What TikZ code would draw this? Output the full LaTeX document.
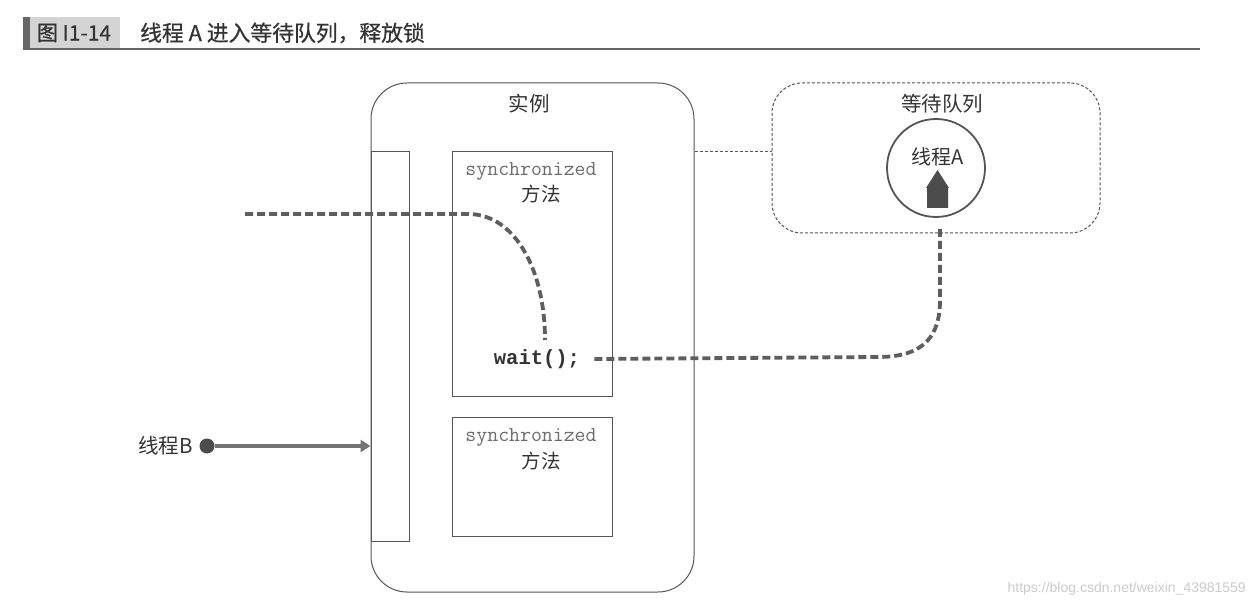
\documentclass[tikz,border=0pt]{standalone}
\usepackage{fontspec}
\setmainfont{Noto Sans CJK SC}
\newfontfamily\cjk{Noto Sans CJK SC}
\newfontfamily\cjkt[FakeBold=0.6]{Noto Sans CJK SC}
\newfontfamily\monof{Liberation Mono}
\newfontfamily\serifmono{Latin Modern Mono}
\newfontfamily\wmfont{Liberation Sans}
\usetikzlibrary{arrows.meta}
\definecolor{linegray}{HTML}{555555}
\definecolor{txtgray}{HTML}{333333}
\definecolor{pathgray}{HTML}{5E5E5E}
\tikzset{
  box/.style={draw=linegray, line width=1pt, inner sep=0pt},
  label/.style={inner sep=0pt, text=txtgray, font=\cjk\fontsize{20.5}{22}\selectfont},
  thick path/.style={draw=pathgray, line width=3.8pt, dash pattern=on 8pt off 4pt},
  thin link/.style={draw=linegray, line width=0.8pt, dash pattern=on 3pt off 2pt},
  mono/.style={inner sep=0pt, text=gray!85!black, font=\serifmono\fontsize{21.2}{23}\selectfont},
}
\begin{document}
\begin{tikzpicture}[x=1pt,y=-1pt]
\useasboundingbox (0,0) rectangle (1255,609);
\fill[white] (0,0) rectangle (1255,609);
% title
\node[fill=black!17, minimum width=90pt, minimum height=33pt, inner sep=0pt] (tbg) at (75,33.5) {};
\node[fill=black!60, minimum width=7pt, minimum height=33pt, inner sep=0pt] (tbar) at (26.5,33.5) {};
\node[inner sep=0pt, text=txtgray, font=\cjkt\fontsize{21}{23}\selectfont] (tnum) at (74,33) {图 I1-14};
\node[inner sep=0pt, anchor=west, text=txtgray, font=\cjkt\fontsize{21.8}{23}\selectfont] (ttxt) at (140,33) {线程 A 进入等待队列，释放锁};
\coordinate (tend) at (1200,49.2);
\draw[draw=black!60, line width=1.6pt] (tbar.west |- tend) -- (tend);
% instance
\node[box, rounded corners=36pt, minimum width=323pt, minimum height=509pt] (inst) at (532.5,337.5) {};
\node[label] (instl) at (529,104) {实例};
\node[box, minimum width=38pt, minimum height=389pt] (lock) at (390,346.5) {};
\node[box, minimum width=160pt, minimum height=244pt] (m1) at (532,274) {};
\node[box, minimum width=160pt, minimum height=119pt] (m2) at (532,476.5) {};
\node[mono] (m1a) at (531,171) {synchronized};
\node[label, font=\cjk\fontsize{19.5}{21}\selectfont] (m1b) at (541,194) {方法};
\node[mono] (m2a) at (531,437) {synchronized};
\node[label, font=\cjk\fontsize{19.5}{21}\selectfont] (m2b) at (541,461) {方法};
\node[inner sep=0pt, text=txtgray, font=\monof\bfseries\fontsize{20.5}{22}\selectfont] (wait) at (537,359) {wait();};
% queue
\node[draw=linegray, line width=1pt, dash pattern=on 3pt off 2pt, rounded corners=30pt, minimum width=328pt, minimum height=150pt, inner sep=0pt] (q) at (936,158) {};
\node[label] (ql) at (942,104) {等待队列};
\node[draw=linegray, line width=1.8pt, circle, minimum size=98pt, inner sep=0pt] (ta) at (936,168) {};
\node[label, font=\cjk\fontsize{20}{22}\selectfont] (tal) at (938,157) {线程A};
\fill[black!70] (927,208) -- (927,188) -- (926,188) -- (937.5,170) -- (949,188) -- (948,188) -- (948,208) -- cycle;
\draw[thin link] (inst.east |- m1.north) -- (q.west |- m1.north);
% thread A path
\coordinate (s1) at (245,214);
\coordinate (e1) at (545,340);
\draw[thick path] (s1) -- (468,214) .. controls (515,214) and (545,270) .. (e1);
\coordinate (qb) at (940,229);
\draw[thick path] ([xshift=14pt]wait.east) -- (878,357) .. controls (925,357) and (940,335) .. (940,300) -- (qb);
% thread B
\node[circle, fill=black!70, minimum size=15pt, inner sep=0pt] (bdot) at (207,446) {};
\node[label, anchor=east, font=\cjk\fontsize{20.5}{22}\selectfont] (bl) at (193,446) {线程B};
\draw[draw=black!55, line width=3.4pt, -{Triangle[length=10pt,width=12pt]}] (bdot) -- (lock.west |- bdot);
% watermark
\node[inner sep=0pt, anchor=east, text=black!20, font=\wmfont\fontsize{14}{16}\selectfont] (wm) at (1246,589) {https://blog.csdn.net/weixin\_43981559};
\end{tikzpicture}
\end{document}
